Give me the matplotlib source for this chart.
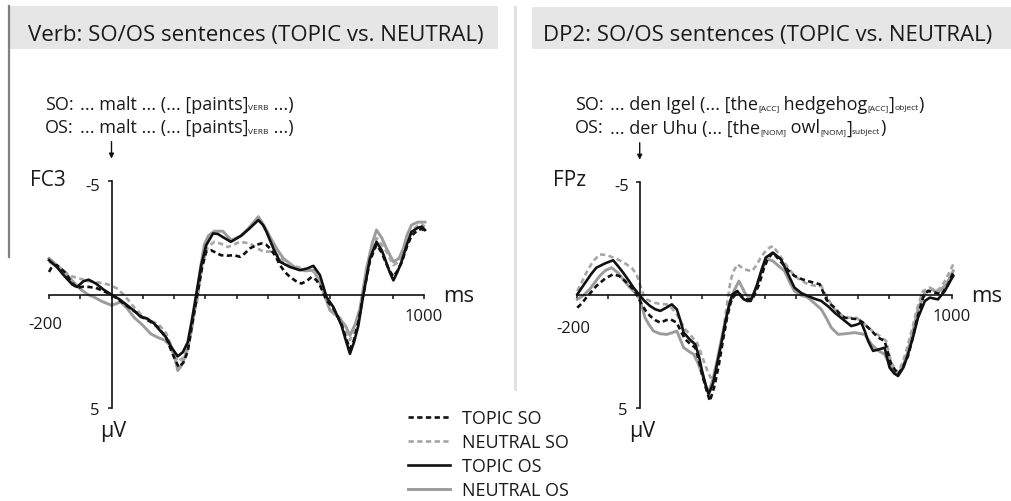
import numpy as np
import matplotlib.pyplot as plt
from matplotlib.patches import Rectangle
from matplotlib.lines import Line2D

plt.rcParams['font.family'] = ['Open Sans', 'DejaVu Sans']

W, H = 1011, 502

# ---- Daten: Zeit (ms) und Amplitude (µV) ----
# linkes Panel (Verb, FC3)
l_tos_t = [-200, -175, -150, -125, -110, -90, -73, -50, -25, 0, 25, 50, 75, 94, 115, 137, 155, 174, 195, 212,
           228, 244, 258, 271, 287, 303, 325, 340, 355, 382, 415, 440, 470, 485, 496, 518, 539, 571, 603, 625,
           646, 667, 688, 710, 736, 750, 763, 776, 790, 806, 827, 848, 865, 875, 890, 902, 915, 928, 945, 960,
           980, 993, 1003]
l_tos_v = [-1.52, -1.22, -0.81, -0.44, -0.34, -0.59, -0.66, -0.49, -0.22, 0.0, 0.2, 0.47, 0.74, 0.99, 1.06,
           1.28, 1.58, 1.87, 2.39, 2.72, 2.54, 2.1, 1.06, 0.0, -1.3, -2.18, -2.7, -2.68, -2.55, -2.33, -2.6,
           -2.9, -3.29, -3.07, -2.77, -2.04, -1.45, -1.22, -1.08, -1.15, -1.27, -0.86, 0.1, 0.55, 1.36, 2.02,
           2.61, 2.1, 1.36, 0.0, -1.59, -2.33, -1.95, -1.59, -1.0, -0.63, -1.0, -1.45, -2.2, -2.77, -2.95,
           -3.0, -2.85]

l_nos_t = [-200, -175, -150, -125, -100, -75, -57, -30, 0, 15, 29, 50, 72, 100, 126, 150, 169, 185, 201, 212,
           225, 244, 258, 270, 285, 297, 310, 329, 356, 383, 415, 440, 470, 490, 507, 530, 550, 592, 620, 646,
           665, 678, 699, 731, 750, 763, 780, 795, 816, 835, 848, 865, 880, 902, 920, 934, 945, 960, 980, 993,
           1003]
l_nos_v = [-1.6, -1.3, -1.0, -0.6, -0.25, 0.0, 0.1, 0.3, 0.47, 0.4, 0.32, 0.6, 1.0, 1.35, 1.73, 1.9, 2.0, 2.2,
           2.68, 3.35, 3.1, 2.4, 1.4, 0.3, -1.2, -2.2, -2.6, -2.8, -2.8, -2.4, -2.6, -2.95, -3.44, -3.0, -2.55,
           -2.0, -1.6, -1.15, -1.05, -1.08, -0.6, -0.12, 0.69, 1.06, 1.4, 1.8, 1.3, 0.62, -1.15, -2.3, -2.85,
           -2.5, -2.04, -1.45, -1.6, -2.04, -2.6, -3.07, -3.2, -3.2, -3.2]

l_tso_t = [-200, -190, -175, -150, -125, -110, -90, -73, -50, -25, 0, 25, 50, 75, 100, 125, 150, 175, 195, 215,
           230, 244, 258, 275, 290, 303, 318, 335, 350, 370, 392, 411, 425, 443, 465, 480, 495, 507, 525, 539,
           555, 571, 590, 608, 625, 640, 655, 667, 688, 710, 736, 750, 763, 776, 790, 806, 827, 848, 865, 875,
           890, 902, 915, 928, 945, 960, 980, 993, 1003]
l_tso_v = [-1.0, -1.25, -1.3, -1.0, -0.5, -0.3, -0.35, -0.34, -0.3, -0.15, 0.0, 0.25, 0.5, 0.75, 1.0, 1.2, 1.45,
           1.9, 2.6, 3.2, 3.0, 2.5, 1.3, 0.0, -1.2, -1.9, -1.96, -1.85, -1.74, -1.72, -1.74, -1.67, -1.8, -2.04,
           -2.2, -2.26, -2.2, -2.04, -1.7, -1.3, -1.0, -0.78, -0.6, -0.49, -0.6, -0.78, -0.65, -0.41, 0.25, 0.6,
           1.3, 1.9, 2.4, 2.0, 1.2, 0.0, -1.5, -2.2, -1.85, -1.5, -1.05, -0.8, -1.05, -1.4, -2.1, -2.6, -2.85,
           -2.9, -2.8]

l_nso_t = [-200, -175, -150, -125, -100, -75, -50, -25, 0, 18, 35, 50, 75, 100, 125, 150, 175, 195, 212, 228,
           244, 258, 275, 290, 308, 329, 350, 372, 390, 411, 443, 465, 486, 518, 535, 550, 575, 600, 625, 650,
           665, 680, 700, 736, 750, 763, 780, 795, 816, 835, 848, 865, 880, 902, 920, 934, 945, 960, 980, 993,
           1003]
l_nso_v = [-1.45, -1.25, -1.0, -0.8, -0.7, -0.6, -0.55, -0.5, -0.4, -0.27, -0.05, 0.18, 0.6, 0.95, 1.15, 1.3,
           1.7, 2.4, 2.95, 2.8, 2.3, 1.2, 0.2, -1.3, -2.1, -2.33, -2.25, -2.1, -2.2, -2.33, -2.26, -2.05, -1.9,
           -1.9, -1.7, -1.45, -1.3, -1.2, -1.1, -1.0, -0.6, -0.1, 0.6, 1.1, 1.5, 2.0, 1.5, 0.8, -1.0, -2.0,
           -2.5, -2.2, -1.9, -1.3, -1.45, -1.8, -2.3, -2.8, -3.05, -3.1, -3.0]

# rechtes Panel (DP2, FPz)
r_tos_t = [-200, -185, -171, -155, -139, -110, -85, -70, -53, -35, -20, 0, 15, 33, 50, 66, 85, 103, 119, 130,
           141, 160, 178, 190, 200, 212, 221, 235, 248, 262, 275, 287, 297, 313, 325, 334, 345, 356, 366, 377,
           390, 404, 427, 453, 475, 496, 518, 539, 560, 582, 605, 625, 650, 678, 695, 710, 722, 732, 748, 765,
           785, 801, 815, 828, 845, 860, 877, 892, 914, 930, 945, 956, 978, 990, 1005]
r_tos_v = [-0.04, -0.35, -0.63, -0.95, -1.22, -1.42, -1.55, -1.3, -1.0, -0.65, -0.34, 0.0, 0.25, 0.47, 0.62,
           0.69, 0.55, 0.4, 0.62, 1.1, 1.65, 1.95, 2.17, 2.7, 3.35, 4.0, 4.38, 3.9, 3.05, 2.1, 1.14, 0.4, -0.04,
           -0.19, 0.05, 0.18, 0.25, 0.25, -0.1, -0.49, -1.1, -1.67, -1.89, -1.59, -0.95, -0.34, -0.1, 0.03,
           0.15, 0.25, 0.5, 0.77, 1.05, 1.36, 1.3, 1.21, 1.6, 2.02, 2.46, 2.4, 2.32, 3.2, 3.45, 3.57, 3.2,
           2.61, 1.8, 0.99, 0.25, 0.1, 0.15, 0.18, -0.19, -0.5, -0.86]

r_nos_t = [-200, -180, -160, -145, -128, -110, -90, -70, -53, -35, -15, 1, 17, 30, 44, 65, 87, 105, 119, 130,
           141, 160, 173, 187, 200, 212, 221, 235, 248, 264, 280, 292, 302, 318, 330, 340, 350, 361, 372, 383,
           396, 410, 427, 445, 464, 480, 496, 518, 539, 560, 582, 600, 614, 636, 660, 689, 721, 743, 765, 785,
           806, 828, 845, 860, 877, 892, 904, 914, 935, 956, 983, 1005]
r_nos_v = [0.18, 0.0, -0.27, -0.55, -0.86, -1.1, -1.22, -1.0, -0.71, -0.4, -0.12, 0.18, 0.99, 1.3, 1.58, 1.7,
           1.73, 1.65, 1.58, 1.95, 2.32, 2.5, 2.61, 3.0, 3.5, 4.0, 4.3, 3.7, 2.9, 1.8, 0.84, 0.2, -0.19, -0.63,
           -0.3, -0.04, 0.08, 0.1, -0.3, -0.78, -1.25, -1.6, -1.52, -1.3, -1.08, -0.6, -0.19, 0.0, 0.1, 0.35,
           0.62, 1.05, 1.43, 1.73, 1.7, 1.65, 1.73, 2.17, 2.45, 2.61, 3.2, 3.5, 3.1, 2.46, 1.5, 0.62, 0.2,
           -0.12, -0.27, -0.12, -0.49, -1.08]

r_tso_t = [-200, -185, -171, -155, -139, -110, -85, -65, -47, -30, -15, 6, 20, 33, 50, 66, 85, 98, 119, 132,
           146, 162, 178, 190, 200, 212, 225, 240, 254, 268, 280, 292, 302, 318, 330, 340, 361, 372, 383, 396,
           410, 427, 445, 464, 480, 496, 518, 539, 560, 577, 588, 598, 612, 625, 640, 657, 680, 700, 715, 727,
           745, 764, 785, 795, 806, 828, 845, 860, 875, 887, 898, 908, 924, 946, 967, 989, 1005]
r_tso_v = [0.55, 0.35, 0.1, -0.15, -0.41, -0.75, -0.93, -0.85, -0.63, -0.4, -0.19, 0.4, 0.7, 0.91, 1.1, 1.21,
           1.1, 1.06, 1.21, 1.6, 1.95, 2.15, 2.32, 2.9, 3.5, 4.1, 4.68, 4.0, 3.05, 1.9, 0.99, 0.3, 0.03, -0.12,
           0.1, 0.18, 0.18, -0.15, -0.49, -1.1, -1.6, -1.89, -1.6, -1.3, -1.05, -0.86, -0.72, -0.63, -0.55,
           -0.49, -0.15, 0.18, 0.4, 0.55, 0.8, 0.99, 1.03, 1.06, 1.2, 1.36, 1.6, 1.87, 2.02, 2.5, 3.05, 3.5,
           3.15, 2.68, 1.9, 1.14, 0.6, 0.1, -0.19, -0.12, -0.04, -0.49, -1.0]

r_nso_t = [-200, -185, -171, -150, -128, -105, -85, -65, -42, -25, -10, 0, 12, 25, 44, 65, 87, 105, 119, 133,
           146, 165, 184, 195, 205, 216, 227, 240, 254, 265, 275, 283, 291, 300, 313, 325, 334, 350, 361, 375,
           388, 400, 415, 427, 445, 464, 480, 496, 518, 539, 560, 582, 598, 612, 625, 645, 662, 694, 715, 732,
           750, 769, 790, 806, 828, 845, 860, 875, 887, 898, 908, 930, 951, 965, 978, 992, 1005]
r_nso_v = [-0.19, -0.6, -1.0, -1.5, -1.81, -1.78, -1.67, -1.55, -1.37, -1.2, -0.93, -0.5, -0.04, 0.2, 0.32,
           0.38, 0.4, 0.6, 0.84, 1.2, 1.5, 1.8, 2.1, 2.5, 2.9, 3.3, 3.64, 3.4, 2.9, 1.9, 0.84, 0.1, -0.63,
           -1.05, -1.37, -1.25, -1.15, -1.1, -1.08, -1.35, -1.67, -1.9, -2.1, -2.18, -1.85, -1.45, -1.15,
           -0.86, -0.65, -0.49, -0.43, -0.41, 0.03, 0.35, 0.62, 0.85, 0.99, 0.99, 1.2, 1.43, 1.62, 1.8, 2.02,
           2.98, 3.42, 2.9, 2.17, 1.4, 0.69, 0.2, -0.19, -0.34, -0.19, -0.35, -0.63, -1.0, -1.37]

conditions = ['TOPIC SO', 'NEUTRAL SO', 'TOPIC OS', 'NEUTRAL OS']
x_ticks = list(range(-200, 1001, 100))

BLACK = '#111111'
GRAY = '#9c9c9c'
TXT = '#1a1a1a'
styles = {
    'TOPIC SO': dict(color=BLACK, ls=(0, (2.0, 1.3)), lw=1.9),
    'NEUTRAL SO': dict(color='#a6a6a6', ls=(0, (2.0, 1.3)), lw=1.9),
    'TOPIC OS': dict(color=BLACK, ls='-', lw=1.9),
    'NEUTRAL OS': dict(color=GRAY, ls='-', lw=2.1),
}

fig = plt.figure(figsize=(W / 100, H / 100), dpi=100)

# Hintergrund-Achse in Pixelkoordinaten für Kästen und Beschriftungen
bg = fig.add_axes([0, 0, 1, 1], zorder=0)
bg.set_xlim(0, W)
bg.set_ylim(H, 0)
bg.axis('off')

bg.add_patch(Rectangle((10, 7), 488, 43, color='#e6e6e6', lw=0))
bg.add_patch(Rectangle((532, 8), 479, 42, color='#e6e6e6', lw=0))
bg.plot([9, 9], [7, 258], color='#808080', lw=1.6)
bg.plot([515, 515], [8, 390], color='#e2e2e2', lw=2.2)

bg.text(28, 40.5, 'Verb: SO/OS sentences (TOPIC vs. NEUTRAL)', fontsize=16, va='baseline', color=TXT)
bg.text(543, 40.5, 'DP2: SO/OS sentences (TOPIC vs. NEUTRAL)', fontsize=16, va='baseline', color=TXT)


def rich(x, y, parts, size=13, subsize=6.0):
    """Text mit Tiefstellungen, Stück für Stück aneinandergehängt."""
    first = bg.text(x, y, parts[0][0], fontsize=size, va='baseline', color=TXT)
    prev = first
    for s, sub in parts[1:]:
        if sub:
            prev = bg.annotate(s, xy=(1, 0), xycoords=(prev, first), xytext=(0, 1.2),
                               textcoords='offset points', va='bottom', fontsize=subsize, color=TXT)
        else:
            prev = bg.annotate(s, xy=(1, 0), xycoords=(prev, first), va='bottom',
                               fontsize=size, color=TXT)


for lab, yb in [('SO:', 110), ('OS:', 133.5)]:
    bg.text(45, yb, lab, fontsize=13, va='baseline', color=TXT)
    bg.text(575, yb, lab, fontsize=13, va='baseline', color=TXT)

rich(80, 110, [('... malt ... (... [paints]', False), ('VERB', True), (' ...)', False)])
rich(80, 133.5, [('... malt ... (... [paints]', False), ('VERB', True), (' ...)', False)])
rich(610, 110, [('... den Igel (... [the', False), ('[ACC]', True), (' hedgehog', False), ('[ACC]', True),
                (']', False), ('object', True), (')', False)])
rich(610, 133.5, [('... der Uhu (... [the', False), ('[NOM]', True), (' owl', False), ('[NOM]', True),
                  (']', False), ('subject', True), (')', False)])


def panel(x0, x1, ytop, ybot, curves, elec, lx, y200):
    ax = fig.add_axes([x0 / W, 1 - ybot / H, (x1 - x0) / W, (ybot - ytop) / H], zorder=1)
    ax.patch.set_alpha(0)
    ax.set_xlim(-200, 1000)
    ax.set_ylim(5, -5)
    for sp in ['top', 'right']:
        ax.spines[sp].set_visible(False)
    ax.spines['left'].set_position(('data', 0))
    ax.spines['bottom'].set_position(('data', 0))
    for sp in ['left', 'bottom']:
        ax.spines[sp].set_linewidth(1.2)
        ax.spines[sp].set_color(BLACK)
    ax.set_xticks(x_ticks)
    ax.set_xticklabels([])
    ax.set_yticks([-5, 5])
    ax.set_yticklabels([])
    ax.tick_params(axis='both', direction='out', length=3.2, width=1.1, color=BLACK)

    order = ['NEUTRAL OS', 'NEUTRAL SO', 'TOPIC SO', 'TOPIC OS']
    for name in order:
        t, v = curves[name]
        st = styles[name]
        ax.plot(t, v, color=st['color'], ls=st['ls'], lw=st['lw'], clip_on=False,
                dash_capstyle='butt', solid_joinstyle='round')

    ax.annotate('', xy=(0, -6.0), xytext=(0, -6.75), annotation_clip=False,
                arrowprops=dict(arrowstyle='-|>', lw=1.0, color=BLACK, mutation_scale=7, shrinkA=0, shrinkB=0))

    zx = x0 + (x1 - x0) / 6.0
    bg.text(lx, 186, elec, fontsize=15, va='baseline', color=TXT)
    bg.text(zx - 11, 191, '-5', fontsize=12, ha='right', va='baseline', color=TXT)
    bg.text(zx - 12, 415, '5', fontsize=12, ha='right', va='baseline', color=TXT)
    bg.text(zx - 11, 437, 'µV', fontsize=15.5, va='baseline', color=TXT)
    bg.text(x1 + 19, 302, 'ms', fontsize=16, va='baseline', color=TXT)
    bg.text(x0 - 4, y200, '-200', fontsize=12, ha='center', va='baseline', color=TXT)
    bg.text(x1, 321, '1000', fontsize=12, ha='center', va='baseline', color=TXT)
    return ax


left_curves = {'TOPIC SO': (l_tso_t, l_tso_v), 'NEUTRAL SO': (l_nso_t, l_nso_v),
               'TOPIC OS': (l_tos_t, l_tos_v), 'NEUTRAL OS': (l_nos_t, l_nos_v)}
right_curves = {'TOPIC SO': (r_tso_t, r_tso_v), 'NEUTRAL SO': (r_nso_t, r_nso_v),
                'TOPIC OS': (r_tos_t, r_tos_v), 'NEUTRAL OS': (r_nos_t, r_nos_v)}

axl = panel(49, 424, 182.3, 409, left_curves, 'FC3', 30, 329)
axr = panel(577.3, 951.7, 183.3, 409.3, right_curves, 'FPz', 553, 333)

leg_handles = [Line2D([], [], color=styles[c]['color'], ls=styles[c]['ls'], lw=styles[c]['lw'])
               for c in conditions]
fig.legend(leg_handles, conditions, loc='upper left', bbox_to_anchor=(408 / W, 1 - 410 / H),
           frameon=False, fontsize=13, handlelength=2.3, handletextpad=0.7, labelspacing=0.33,
           borderpad=0, borderaxespad=0, labelcolor=TXT)

fig.savefig('out.png', dpi=100)
